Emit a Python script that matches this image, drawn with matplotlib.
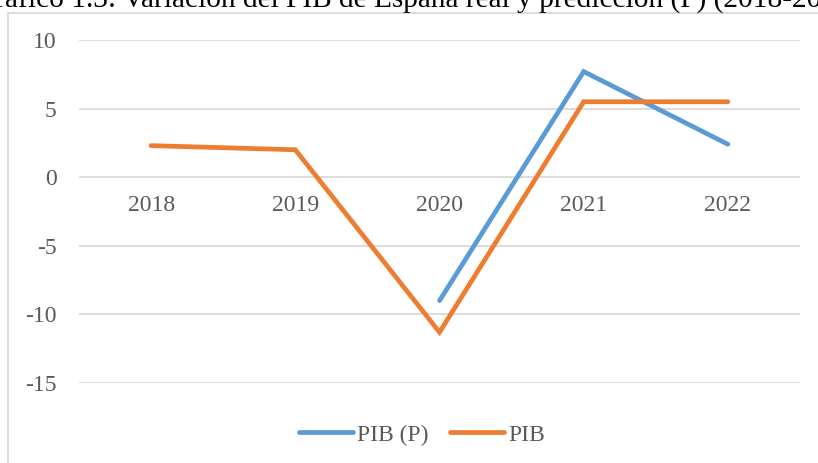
import matplotlib.pyplot as plt
from matplotlib.patches import Rectangle

years = ["2018", "2019", "2020", "2021", "2022"]
pib = [2.3, 2.0, -11.3, 5.5, 5.5]
pib_p = [None, None, -9.0, 7.7, 2.4]
yticks = [10, 5, 0, -5, -10, -15]

blue = "#5B9BD5"
orange = "#ED7D31"
grey_txt = "#595959"

plt.rcParams["font.family"] = ["Liberation Serif", "DejaVu Serif"]

fig = plt.figure(figsize=(8.18, 4.63), dpi=100)

# frame of the chart object (cut off at right/bottom like the screenshot)
fig.patches.append(Rectangle((7.5 / 818, -0.05), 1.0, 1 - 13 / 463 + 0.05,
                             transform=fig.transFigure, fill=False,
                             edgecolor="#D9D9D9", linewidth=1.3))

fig.text(-26 / 818, 1 - 6.5 / 463,
         "Gráfico 1.3: Variación del PIB de España real y predicción (P) (2018-2022)",
         fontsize=21.2, va="baseline", ha="left", color="black")

ax = fig.add_axes([79 / 818, 1 - 383 / 463, (800 - 79) / 818, (383 - 40) / 463])
x = list(range(len(years)))

xp = [i for i, v in zip(x, pib_p) if v is not None]
yp = [v for v in pib_p if v is not None]
ax.plot(xp, yp, color=blue, lw=3.4, solid_capstyle="round",
        solid_joinstyle="miter", label="PIB (P)", clip_on=False, zorder=3)
ax.plot(x, pib, color=orange, lw=3.4, solid_capstyle="round",
        solid_joinstyle="miter", label="PIB", clip_on=False, zorder=4)

ax.set_xlim(-0.5, len(years) - 0.5)
ax.set_ylim(-15, 10)
ax.set_yticks(yticks)
ax.set_yticklabels([str(t) for t in yticks])
ax.yaxis.grid(True, color="#D9D9D9", lw=1.3)
ax.set_axisbelow(True)
ax.tick_params(axis="y", length=0, pad=16, labelsize=17, labelcolor=grey_txt)
ax.set_xticks([])
for s in ax.spines.values():
    s.set_visible(False)

for i, yr in enumerate(years):
    ax.annotate(yr, (i, 0), xytext=(0, -28), textcoords="offset pixels",
                ha="center", va="center", fontsize=17, color=grey_txt)

fig.legend(loc="center", bbox_to_anchor=(422 / 818, 1 - 435 / 463),
           ncol=2, frameon=False, fontsize=17, handlelength=2.3,
           handletextpad=0.17, columnspacing=0.9, labelcolor=grey_txt)

fig.savefig("out.png", dpi=100)
